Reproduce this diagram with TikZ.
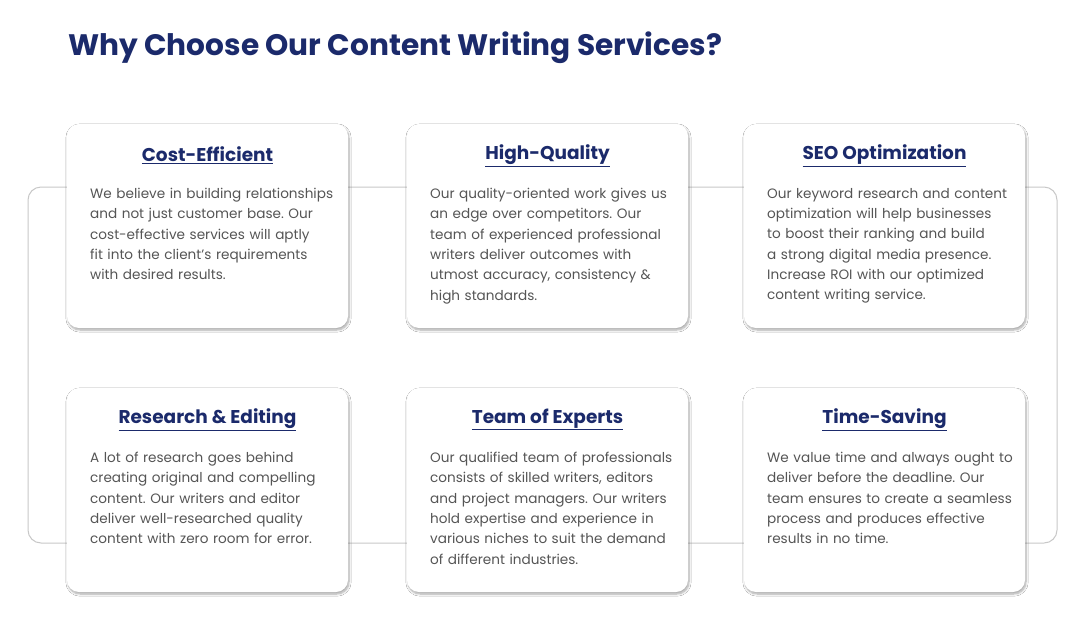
\documentclass[tikz,border=0pt]{standalone}
\usepackage{fontspec}
\setmainfont{Poppins}
\usetikzlibrary{shadows.blur}
\definecolor{navy}{HTML}{1B2A6B}
\definecolor{bodyc}{HTML}{555555}
\definecolor{linec}{HTML}{C8C8C8}
\begin{document}
\frenchspacing
\begin{tikzpicture}[x=1pt,y=-1pt,
  card/.style={draw=none,fill=white,rounded corners=12pt,blur shadow={shadow xshift=1pt,shadow yshift=-2pt,shadow blur steps=6,shadow opacity=35}},
  ttl/.style={font=\fontsize{18.5}{22}\selectfont\bfseries,text=navy,inner sep=0pt},
  bodytxt/.style={font=\fontsize{13.6}{20.3}\selectfont\frenchspacing,text=bodyc,align=left,text width=262pt,inner sep=0pt,anchor=north west}]
\useasboundingbox (0,0) rectangle (1082,622);
\fill[white] (0,0) rectangle (1082,622);
\node[anchor=west,font=\fontsize{29.6}{34}\selectfont\bfseries,text=navy,inner sep=0pt] (title) at (68,48) {Why Choose Our Content Writing Services?};
\draw[linec,line width=1pt,rounded corners=13pt] (28,187) rectangle (1057,543);
\foreach \x/\y/\n in {67/124/a,407/124/b,744/124/c,67/388/d,407/388/e,744/388/f}{
  \path[card] (\x,\y) rectangle ++(281,204);
  \coordinate (\n) at (\x,\y);
}
\foreach \n/\t/\b in {
 a/Cost-Efficient/{We believe in building relationships\\and not just customer base. Our\\cost-effective services will aptly\\fit into the client’s requirements\\with desired results.},
 b/High-Quality/{Our quality-oriented work gives us\\an edge over competitors. Our\\team of experienced professional\\writers deliver outcomes with\\utmost accuracy, consistency \&\\high standards.},
 c/SEO Optimization/{Our keyword research and content\\optimization will help businesses\\to boost their ranking and build\\a strong digital media presence.\\Increase ROI with our optimized\\content writing service.},
 d/Research \& Editing/{A lot of research goes behind\\creating original and compelling\\content. Our writers and editor\\deliver well-researched quality\\content with zero room for error.},
 e/Team of Experts/{Our qualified team of professionals\\consists of skilled writers, editors\\and project managers. Our writers\\hold expertise and experience in\\various niches to suit the demand\\of different industries.},
 f/Time-Saving/{We value time and always ought to\\deliver before the deadline. Our\\team ensures to create a seamless\\process and produces effective\\results in no time.}}{
  \node[ttl] (\n t) at ([shift={(140.5,31.5)}]\n) {\underline{\t}};
  \node[bodytxt] (\n b) at ([shift={(23,64)}]\n) {\b};
}
\end{tikzpicture}
\end{document}
